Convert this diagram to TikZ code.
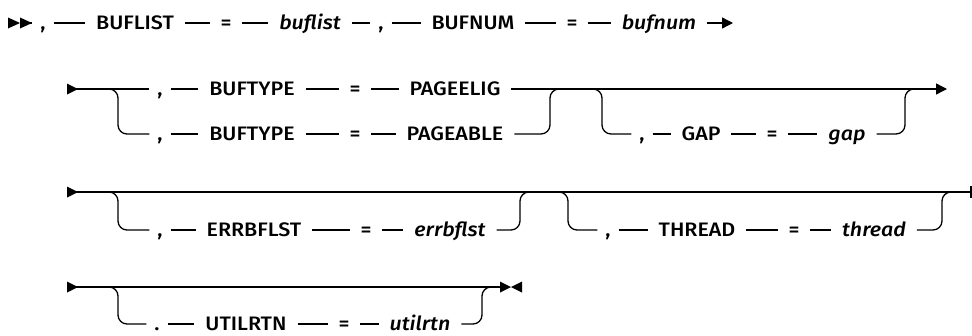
\documentclass[tikz,border=0pt]{standalone}
\usepackage{fontspec}
\setmainfont{Fira Sans}[UprightFont={Fira Sans Medium},ItalicFont={Fira Sans Medium Italic},FakeStretch=1.1]
\usetikzlibrary{arrows.meta}
\begin{document}
\begin{tikzpicture}[x=1pt,y=-1pt,line width=1.3pt,
  t/.style={font=\fontsize{19.5}{22}\selectfont,inner xsep=11pt,inner ysep=0pt,outer sep=0pt,text height=13.4pt,text depth=0pt,anchor=center},
  v/.style={t,font=\fontsize{19.5}{22}\selectfont\itshape},
  p/.style={t,inner xsep=8pt},
  rail/.style={rounded corners=9pt},
  tip/.style={-{Triangle[length=11pt,width=11pt]}}]
\useasboundingbox (0,0) rectangle (972,335);
% ---------- row 1
\fill (8,17.5) -- (20,23) -- (8,28.5) -- cycle;
\fill (20,17.5) -- (32,23) -- (20,28.5) -- cycle;
\coordinate (s1) at (28,23);
\node[p] (a1) at (43,23) {,};
\node[t] (a2) at (135,23) {BUFLIST};
\node[t] (a3) at (226,23) {=};
\node[v] (a4) at (310,23) {buflist};
\node[p] (a5) at (381,23) {,};
\node[t] (a6) at (473,23) {BUFNUM};
\node[t] (a7) at (572,23) {=};
\node[v] (a8) at (659,23) {bufnum};
\coordinate (e1) at (733,23);
\foreach \u/\w in {s1/a1,a1/a2,a2/a3,a3/a4,a4/a5,a5/a6,a6/a7,a7/a8} \draw (\u) -- (\w);
\draw[tip] (a8) -- (e1);
% ---------- row 2
\fill (67,83.5) -- (78,89) -- (67,94.5) -- cycle;
\coordinate (s2) at (76,89);
\coordinate (j2a) at (118,89);
\coordinate (j2b) at (118,134);
\coordinate (m2a) at (550,89);
\coordinate (m2b) at (550,134);
\coordinate (m2c) at (562,89);
\coordinate (k2a) at (602,89);
\coordinate (k2b) at (602,134);
\coordinate (k2c) at (590,89);
\coordinate (n2a) at (905,89);
\coordinate (n2b) at (905,134);
\coordinate (n2c) at (917,89);
\coordinate (e2) at (947,89);
\node[p] (b1) at (160,89) {,};
\node[t] (b2) at (252,89) {BUFTYPE};
\node[t] (b3) at (355,89) {=};
\node[t] (b4) at (455,89) {PAGEELIG};
\node[p] (c1) at (160,134) {,};
\node[t] (c2) at (252,134) {BUFTYPE};
\node[t] (c3) at (355,134) {=};
\node[t] (c4) at (455,134) {PAGEABLE};
\node[p] (g1) at (642,134) {,};
\node[t] (g2) at (701,134) {GAP};
\node[t] (g3) at (772,134) {=};
\node[v] (g4) at (847,134) {gap};
\foreach \u/\w in {s2/b1,b1/b2,b2/b3,b3/b4,c1/c2,c2/c3,c3/c4,g1/g2,g2/g3,g3/g4} \draw (\u) -- (\w);
\draw[tip] (b4) -- (e2);
\draw[rail] (s2) -- (j2a) -- (j2b) -- (c1);
\draw[rail] (c4) -- (m2b) -- (m2a) -- (m2c);
\draw[rail] (k2c) -- (k2a) -- (k2b) -- (g1);
\draw[rail] (g4) -- (n2b) -- (n2a) -- (n2c);
% ---------- row 3
\fill (67,186.5) -- (78,192) -- (67,197.5) -- cycle;
\coordinate (s3) at (76,192);
\coordinate (e3) at (971,192);
\coordinate (e3t) at (971,186);
\coordinate (e3b) at (971,198);
\coordinate (j3a) at (118,192);
\coordinate (j3b) at (118,230);
\coordinate (m3a) at (520,192);
\coordinate (m3b) at (520,230);
\coordinate (m3c) at (532,192);
\coordinate (k3a) at (568,192);
\coordinate (k3b) at (568,230);
\coordinate (k3c) at (556,192);
\coordinate (n3a) at (942,192);
\coordinate (n3b) at (942,230);
\coordinate (n3c) at (954,192);
\node[p] (d1) at (160,230) {,};
\node[t] (d2) at (254,230) {ERRBFLST};
\node[t] (d3) at (366,230) {=};
\node[v] (d4) at (450,230) {errbflst};
\node[p] (f1) at (608,230) {,};
\node[t] (f2) at (697,230) {THREAD};
\node[t] (f3) at (794,230) {=};
\node[v] (f4) at (874,230) {thread};
\draw (s3) -- (e3);
\draw (e3t) -- (e3b);
\foreach \u/\w in {d1/d2,d2/d3,d3/d4,f1/f2,f2/f3,f3/f4} \draw (\u) -- (\w);
\draw[rail] (s3) -- (j3a) -- (j3b) -- (d1);
\draw[rail] (d4) -- (m3b) -- (m3a) -- (m3c);
\draw[rail] (k3c) -- (k3a) -- (k3b) -- (f1);
\draw[rail] (f4) -- (n3b) -- (n3a) -- (n3c);
% ---------- row 4
\fill (67,281.5) -- (78,287) -- (67,292.5) -- cycle;
\coordinate (s4) at (76,287);
\coordinate (e4) at (502,287);
\coordinate (j4a) at (118,287);
\coordinate (j4b) at (118,324);
\coordinate (m4a) at (482,287);
\coordinate (m4b) at (482,324);
\coordinate (m4c) at (494,287);
\node[p] (h1) at (157,324) {.};
\node[t] (h2) at (246,324) {UTILRTN};
\node[t] (h3) at (344,324) {=};
\node[v] (h4) at (420,324) {utilrtn};
\draw (s4) -- (e4);
\foreach \u/\w in {h1/h2,h2/h3,h3/h4} \draw (\u) -- (\w);
\draw[rail] (s4) -- (j4a) -- (j4b) -- (h1);
\draw[rail] (h4) -- (m4b) -- (m4a) -- (m4c);
\fill (500,281.5) -- (511,287) -- (500,292.5) -- cycle;
\fill (522,281.5) -- (511,287) -- (522,292.5) -- cycle;
\end{tikzpicture}
\end{document}
